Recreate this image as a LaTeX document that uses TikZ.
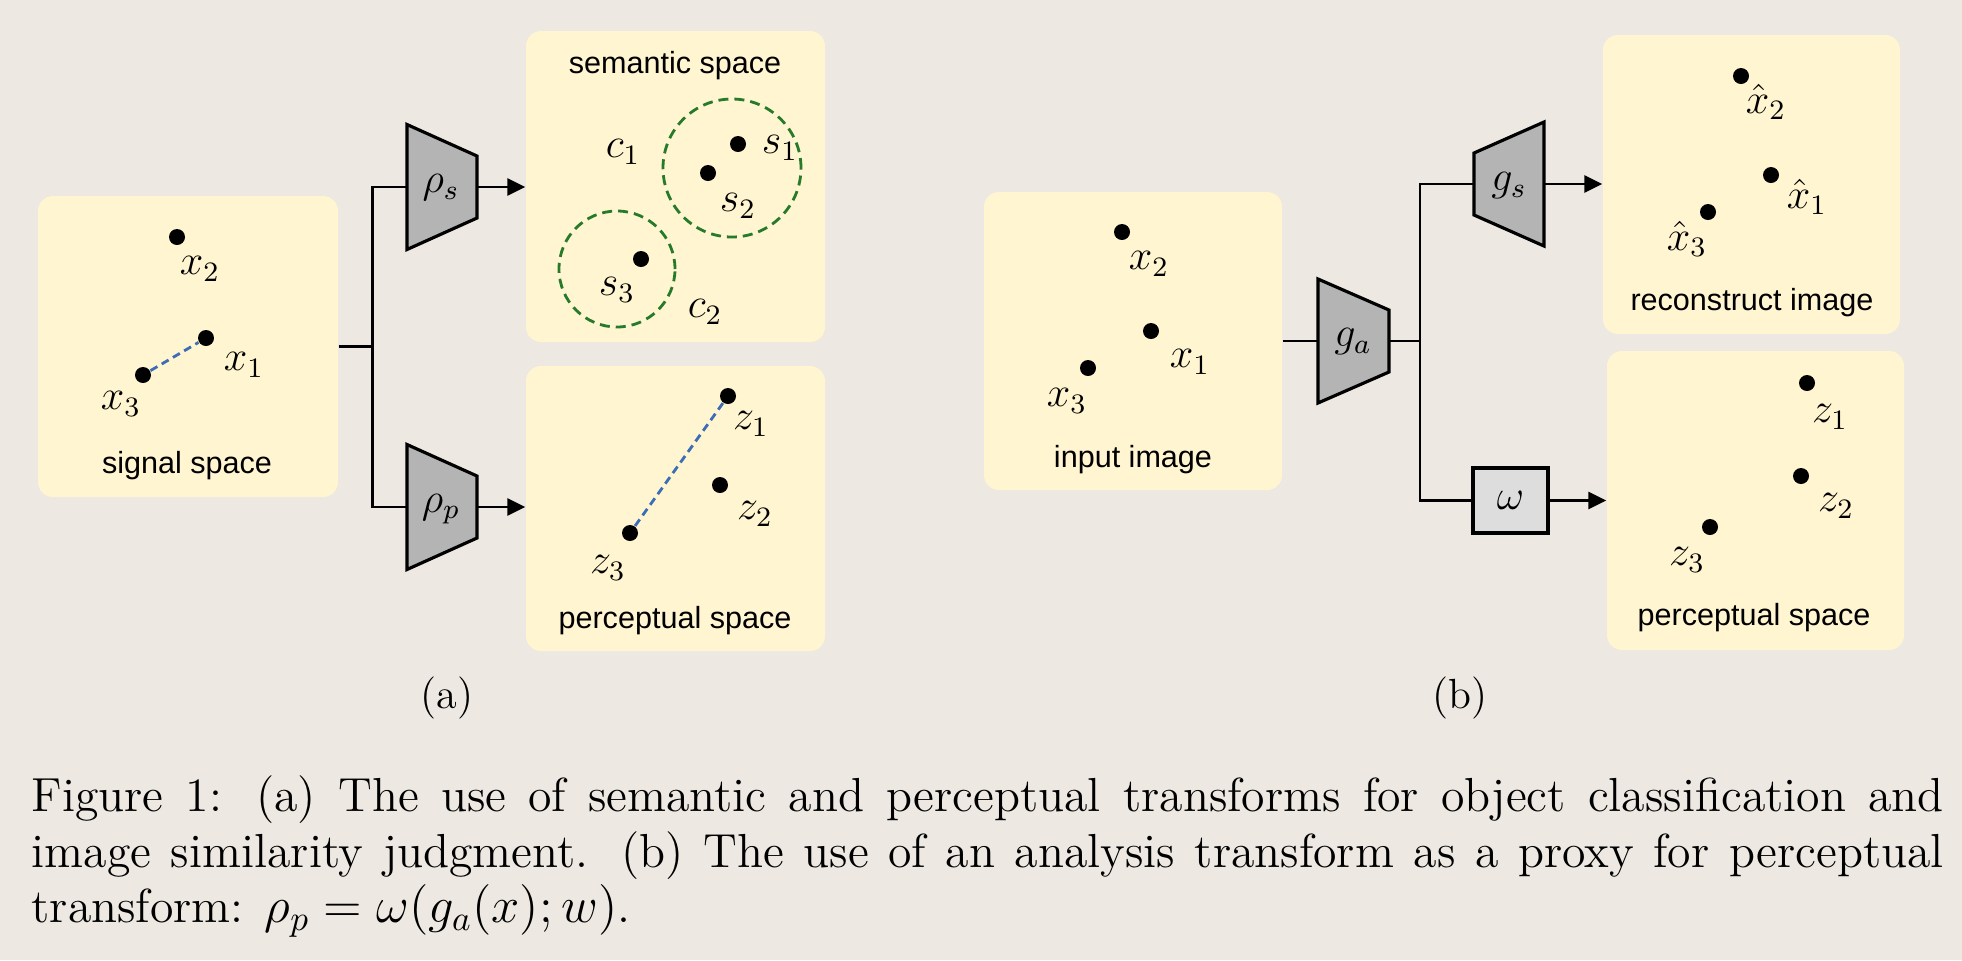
\documentclass[tikz,border=0pt]{standalone}
\usepackage{fontspec}
\setsansfont{Liberation Sans}
\usetikzlibrary{arrows.meta}

\definecolor{fondpage}{HTML}{EDE9E2}
\definecolor{fondboite}{HTML}{FFF5D1}
\definecolor{grisbloc}{HTML}{B4B4B4}
\definecolor{grisclair}{HTML}{DDDDDD}
\definecolor{bleutiret}{HTML}{3D6DB5}
\definecolor{vertcercle}{HTML}{267A2A}

\begin{document}
\begin{tikzpicture}[
    boite/.style={fill=fondboite, rounded corners=0.15cm, inner sep=0pt},
    bloc/.style={draw=black, fill=grisbloc, line width=0.9pt, line join=miter},
    pt/.style={circle, fill=black, inner sep=0pt, minimum size=0.16cm},
    etiq/.style={inner sep=0pt, font=\fontsize{12}{14}\selectfont},
    titre/.style={inner sep=0pt, font=\sffamily\fontsize{8.7}{10}\selectfont},
    fil/.style={line width=0.8pt},
    fleche/.style={line width=0.8pt, -{Triangle[length=0.18cm,width=0.17cm]}},
    tiret/.style={bleutiret, line width=0.8pt, dash pattern=on 0.08cm off 0.05cm},
    groupe/.style={vertcercle, line width=0.8pt, dash pattern=on 0.1cm off 0.06cm}]
      % Fond
      \fill[fondpage] (0,0) rectangle (19.62,-9.6);
      \useasboundingbox (0,0) rectangle (19.62,-9.6);

      % Espaces (a)
      \node[boite, minimum width=3.00cm, minimum height=3.01cm] (signal) at (1.88,-3.465) {};
      \node[boite, minimum width=2.99cm, minimum height=3.11cm] (semantic) at (6.755,-1.865) {};
      \node[boite, minimum width=2.99cm, minimum height=2.85cm] (percA) at (6.755,-5.085) {};

      % Espaces (b)
      \node[boite, minimum width=2.98cm, minimum height=2.98cm] (input) at (11.33,-3.41) {};
      \node[boite, minimum width=2.97cm, minimum height=2.99cm] (recon) at (17.515,-1.845) {};
      \node[boite, minimum width=2.97cm, minimum height=2.99cm] (percB) at (17.555,-5.005) {};

      % Transformations (a)
      \draw[bloc] (4.07,-1.245) -- (4.77,-1.56) -- (4.77,-2.18) -- (4.07,-2.495) -- cycle;
      \draw[bloc] (4.07,-4.445) -- (4.77,-4.76) -- (4.77,-5.38) -- (4.07,-5.695) -- cycle;
      \node[etiq] (rhos) at (4.41,-1.88) {$\rho_s$};
      \node[etiq] (rhop) at (4.41,-5.09) {$\rho_p$};
      \coordinate (rhos-in) at (4.07,-1.87);
      \coordinate (rhos-out) at (4.77,-1.87);
      \coordinate (rhop-in) at (4.07,-5.07);
      \coordinate (rhop-out) at (4.77,-5.07);

      % Transformations (b)
      \draw[bloc] (13.18,-2.79) -- (13.89,-3.10) -- (13.89,-3.72) -- (13.18,-4.03) -- cycle;
      \draw[bloc] (14.74,-1.53) -- (15.44,-1.22) -- (15.44,-2.46) -- (14.74,-2.15) -- cycle;
      \node[etiq] (ga) at (13.53,-3.42) {$g_a$};
      \node[etiq] (gs) at (15.09,-1.86) {$g_s$};
      \node[draw=black, fill=grisclair, line width=0.9pt, minimum width=0.75cm, minimum height=0.65cm,
        inner sep=0pt, font=\fontsize{12}{14}\selectfont] (omega) at (15.105,-5.005) {$\omega$};
      \coordinate (ga-in) at (13.18,-3.41);
      \coordinate (ga-out) at (13.89,-3.41);
      \coordinate (gs-in) at (14.74,-1.84);
      \coordinate (gs-out) at (15.44,-1.84);

      % Liaisons (a)
      \draw[fil] (signal.east) -- ++(0.34,0) coordinate (splitA);
      \draw[fil] (rhos-in) -| (splitA) |- (rhop-in);
      \draw[fleche] (rhos-out) -- (semantic.west |- rhos-out);
      \draw[fleche] (rhop-out) -- (percA.west |- rhop-out);

      % Liaisons (b)
      \draw[fil] (input.east) -- (ga-in);
      \draw[fil] (ga-out) -- ++(0.31,0) coordinate (splitB);
      \draw[fil] (gs-in) -| (splitB) |- (omega.west);
      \draw[fleche] (gs-out) -- (recon.west |- gs-out);
      \draw[fleche] (omega.east) -- (percB.west |- omega.east);

      % Points (a)
      \node[pt] (a-x2) at (1.77,-2.37) {};
      \node[pt] (a-x1) at (2.06,-3.38) {};
      \node[pt] (a-x3) at (1.43,-3.75) {};
      \draw[tiret] (a-x3) -- (a-x1);
      \node[etiq] (a-x2l) at (2.00,-2.69) {$x_2$};
      \node[etiq] (a-x1l) at (2.44,-3.65) {$x_1$};
      \node[etiq] (a-x3l) at (1.21,-4.04) {$x_3$};
      \node[titre] (signall) at (1.87,-4.66) {signal space};

      \draw[groupe] (7.32,-1.68) circle (0.69);
      \draw[groupe] (6.17,-2.69) circle (0.58);
      \node[pt] (s1) at (7.38,-1.44) {};
      \node[pt] (s2) at (7.08,-1.73) {};
      \node[pt] (s3) at (6.41,-2.59) {};
      \node[etiq] (s1l) at (7.80,-1.48) {$s_1$};
      \node[etiq] (s2l) at (7.38,-2.06) {$s_2$};
      \node[etiq] (s3l) at (6.17,-2.90) {$s_3$};
      \node[etiq] (c1l) at (6.23,-1.52) {$c_1$};
      \node[etiq] (c2l) at (7.05,-3.12) {$c_2$};
      \node[titre] (semanticl) at (6.75,-0.66) {semantic space};

      \node[pt] (a-z1) at (7.28,-3.96) {};
      \node[pt] (a-z2) at (7.20,-4.85) {};
      \node[pt] (a-z3) at (6.30,-5.33) {};
      \draw[tiret] (a-z3) -- (a-z1);
      \node[etiq] (a-z1l) at (7.51,-4.24) {$z_1$};
      \node[etiq] (a-z2l) at (7.55,-5.14) {$z_2$};
      \node[etiq] (a-z3l) at (6.08,-5.68) {$z_3$};
      \node[titre] (percAl) at (6.75,-6.21) {perceptual space};

      % Points (b)
      \node[pt] (b-x2) at (11.22,-2.32) {};
      \node[pt] (b-x1) at (11.51,-3.31) {};
      \node[pt] (b-x3) at (10.88,-3.68) {};
      \node[etiq] (b-x2l) at (11.49,-2.64) {$x_2$};
      \node[etiq] (b-x1l) at (11.90,-3.62) {$x_1$};
      \node[etiq] (b-x3l) at (10.67,-4.01) {$x_3$};
      \node[titre] (inputl) at (11.33,-4.60) {input image};

      \node[pt] (xh2) at (17.41,-0.76) {};
      \node[pt] (xh1) at (17.71,-1.75) {};
      \node[pt] (xh3) at (17.08,-2.12) {};
      \node[etiq] (xh2l) at (17.66,-1.02) {$\hat{x}_2$};
      \node[etiq] (xh1l) at (18.07,-1.97) {$\hat{x}_1$};
      \node[etiq] (xh3l) at (16.87,-2.39) {$\hat{x}_3$};
      \node[titre] (reconl) at (17.52,-3.03) {reconstruct image};

      \node[pt] (b-z1) at (18.07,-3.83) {};
      \node[pt] (b-z2) at (18.01,-4.76) {};
      \node[pt] (b-z3) at (17.10,-5.27) {};
      \node[etiq] (b-z1l) at (18.30,-4.17) {$z_1$};
      \node[etiq] (b-z2l) at (18.36,-5.06) {$z_2$};
      \node[etiq] (b-z3l) at (16.87,-5.60) {$z_3$};
      \node[titre] (percBl) at (17.54,-6.18) {perceptual space};

      % Legendes
      \node[inner sep=0pt, font=\fontsize{12}{14}\selectfont] (sousa) at (4.47,-6.98) {(a)};
      \node[inner sep=0pt, font=\fontsize{12}{14}\selectfont] (sousb) at (14.60,-6.98) {(b)};
      \node[inner sep=0pt, anchor=north west, text width=19.12cm, align=justify,
        font=\fontsize{13.6}{15.8}\selectfont] (legende) at (0.31,-7.75)
        {Figure 1: (a) The use of semantic and perceptual transforms for object classification and\linebreak
         image similarity judgment. (b) The use of an analysis transform as a proxy for perceptual\linebreak
         transform: $\rho_p = \omega(g_a(x); w)$.};
\end{tikzpicture}
\end{document}
